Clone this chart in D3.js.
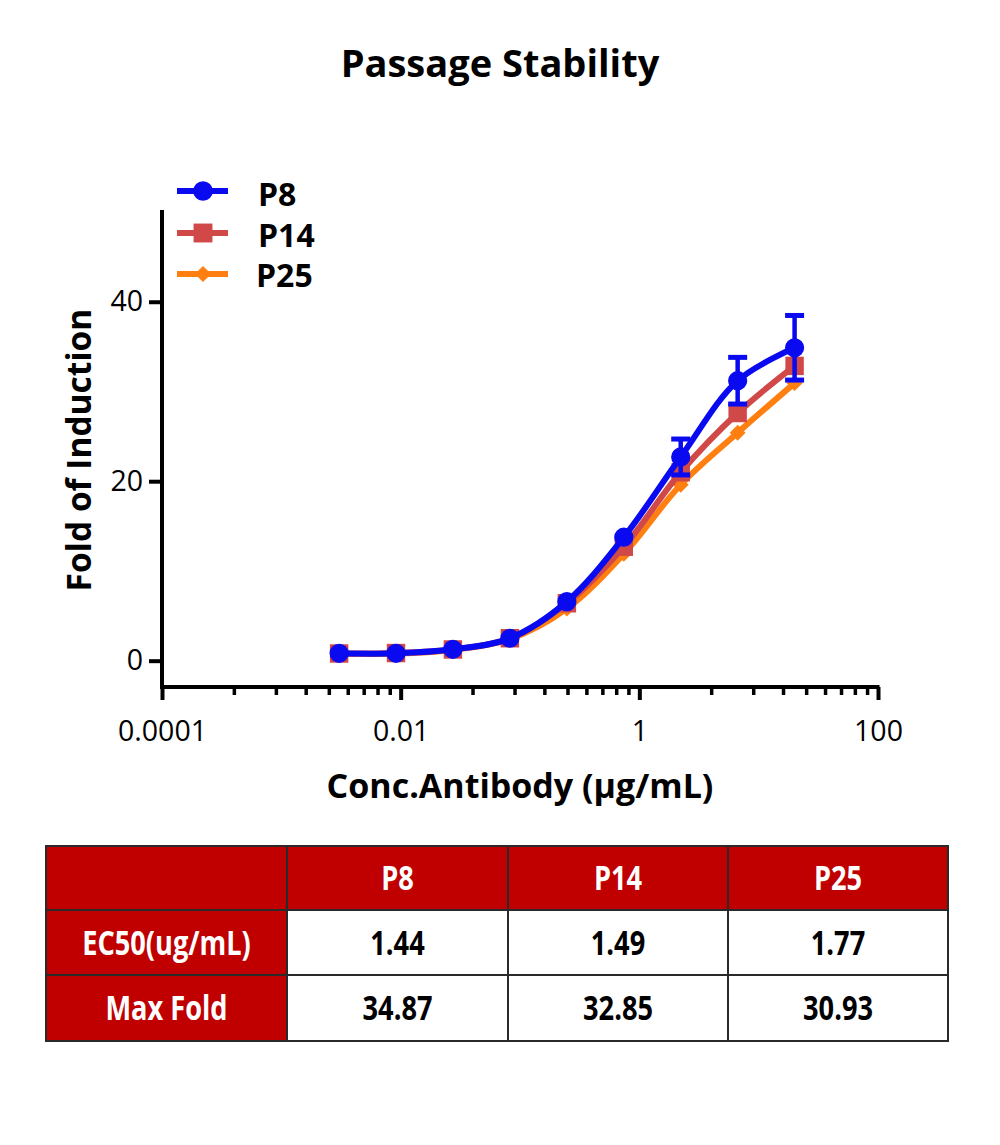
<!DOCTYPE html>
<html>
<head>
<meta charset="utf-8">
<script src="https://cdn.jsdelivr.net/npm/d3@7"></script>
<style>
  html, body { margin: 0; padding: 0; background: #fff; }
  svg { display: block; }
</style>
</head>
<body>
<script>
// ---------------- DATA ----------------
const title = "Passage Stability";
const xLabel = "Conc.Antibody (\u00b5g/mL)";
const yLabel = "Fold of Induction";
const concentrations = [0.00305, 0.00914, 0.0274, 0.0823, 0.247, 0.741, 2.222, 6.667, 20];
const seriesNames = ["P8", "P14", "P25"];
const seriesColors = ["#0A0AF0", "#D04848", "#FF8010"];
const seriesSymbols = ["circle", "square", "diamond"];
const p8Values  = [0.82, 0.82, 1.27, 2.5, 6.58, 13.76, 22.7, 31.2, 34.87];
const p8SD      = [0.1, 0.1, 0.15, 0.2, 0.3, 0.4, 2.0, 2.6, 3.6];
const p14Values = [0.80, 0.85, 1.25, 2.5, 6.4, 12.7, 21.0, 27.6, 32.85];
const p25Values = [0.75, 0.80, 1.20, 2.4, 5.8, 11.9, 19.6, 25.4, 30.93];
const xMajorTicks = [0.0001, 0.01, 1, 100];
const xTickLabels = ["0.0001", "0.01", "1", "100"];
const yTicks = [0, 20, 40];
const tableColumns = ["", "P8", "P14", "P25"];
const tableRowLabels = ["EC50(ug/mL)", "Max Fold"];
const ec50Values = [1.44, 1.49, 1.77];
const maxFoldValues = [34.87, 32.85, 30.93];

// ---------------- LAYOUT ----------------
const W = 1000, H = 1145;
const svg = d3.select("body").append("svg").attr("width", W).attr("height", H);
svg.append("rect").attr("width", W).attr("height", H).attr("fill", "#fff");

const x = d3.scaleLog().domain([0.0001, 100]).range([162, 878]);
const y = d3.scaleLinear().domain([-3, 50]).range([687.6, 212]);

const boldFont = "'Open Sans', 'Noto Sans', sans-serif";

// Title
svg.append("text").attr("x", 500).attr("y", 77).attr("text-anchor", "middle")
  .attr("font-family", boldFont).attr("font-weight", 700).attr("font-size", 38)
  .attr("fill", "#000").text(title);

// Minor x ticks (Prism-style: base * k^2 within each 2-decade interval)
const xMinor = [];
xMajorTicks.slice(0, -1).forEach(b => { for (let k = 2; k <= 9; k++) xMinor.push(b * k * k); });

const gxMinor = svg.append("g").attr("transform", "translate(0,687)")
  .call(d3.axisBottom(x).tickValues(xMinor).tickSize(8).tickSizeOuter(0).tickFormat(""));
gxMinor.select(".domain").remove();
gxMinor.selectAll(".tick line").attr("stroke", "#000").attr("stroke-width", 3.5);

const gx = svg.append("g").attr("transform", "translate(0,687)")
  .call(d3.axisBottom(x).tickValues(xMajorTicks).tickSize(13).tickSizeOuter(0).tickPadding(21)
    .tickFormat((d, i) => xTickLabels[i]));
gx.select(".domain").attr("stroke", "#000").attr("stroke-width", 4)
  .attr("d", `M${x.range()[0] - 2},0H${x.range()[1] + 1.5}`);
gx.selectAll(".tick line").attr("stroke", "#000").attr("stroke-width", 4);
gx.selectAll(".tick text").attr("font-family", boldFont).attr("font-size", 28.5).attr("fill", "#000");

const gy = svg.append("g").attr("transform", "translate(162,0)")
  .call(d3.axisLeft(y).tickValues(yTicks).tickSize(13).tickSizeOuter(0).tickPadding(6));
gy.select(".domain").attr("stroke", "#000").attr("stroke-width", 4)
  .attr("d", `M0,${y.range()[1] - 2}V${y.range()[0] + 1.5}`);
gy.selectAll(".tick line").attr("stroke", "#000").attr("stroke-width", 4);
gy.selectAll(".tick text").attr("font-family", boldFont).attr("font-size", 28.5).attr("fill", "#000");

// Axis labels
svg.append("text").attr("x", 520).attr("y", 798).attr("text-anchor", "middle")
  .attr("font-family", boldFont).attr("font-weight", 700).attr("font-size", 34)
  .attr("fill", "#000").text(xLabel);
svg.append("text").attr("transform", "translate(91,450) rotate(-90)").attr("text-anchor", "middle")
  .attr("font-family", boldFont).attr("font-weight", 700).attr("font-size", 33.5)
  .attr("fill", "#000").text(yLabel);

// Series
const allValues = [p8Values, p14Values, p25Values];
const symbolMap = { circle: d3.symbolCircle, square: d3.symbolSquare, diamond: d3.symbolDiamond2 };
const symbolSize = { circle: 290, square: 340, diamond: 160 };

const line = d3.line().x(d => x(d[0])).y(d => y(d[1])).curve(d3.curveCatmullRom.alpha(0.5));

const plot = svg.append("g");
// draw P25 first, P8 on top
[2, 1, 0].forEach(si => {
  const pts = concentrations.map((c, i) => [c, allValues[si][i]]);
  const g = plot.append("g");
  g.append("path").datum(pts).attr("d", line).attr("fill", "none")
    .attr("stroke", seriesColors[si]).attr("stroke-width", 6).attr("stroke-linejoin", "round");
  if (si === 0) {
    const eb = g.selectAll("g.eb").data(pts.map((p, i) => [p[0], p[1], p8SD[i]])).join("g");
    eb.append("line").attr("x1", d => x(d[0])).attr("x2", d => x(d[0]))
      .attr("y1", d => y(d[1] + d[2])).attr("y2", d => y(d[1] - d[2]))
      .attr("stroke", seriesColors[si]).attr("stroke-width", 4.5);
    ["+", "-"].forEach(sgn => {
      eb.append("line").attr("x1", d => x(d[0]) - 9.5).attr("x2", d => x(d[0]) + 9.5)
        .attr("y1", d => y(sgn === "+" ? d[1] + d[2] : d[1] - d[2]))
        .attr("y2", d => y(sgn === "+" ? d[1] + d[2] : d[1] - d[2]))
        .attr("stroke", seriesColors[si]).attr("stroke-width", 5)
        .attr("display", d => d[2] > 1 ? null : "none");
    });
  }
  const sym = d3.symbol().type(symbolMap[seriesSymbols[si]]).size(symbolSize[seriesSymbols[si]]);
  g.selectAll("path.m").data(pts).join("path").attr("class", "m")
    .attr("transform", d => `translate(${x(d[0])},${y(d[1])})`)
    .attr("d", sym).attr("fill", seriesColors[si]);
});

// Legend
const legendY = [191, 233, 274];
const legendTextY = [206, 247, 287];
seriesNames.forEach((name, si) => {
  const g = svg.append("g");
  g.append("line").attr("x1", 177).attr("x2", 228).attr("y1", legendY[si]).attr("y2", legendY[si])
    .attr("stroke", seriesColors[si]).attr("stroke-width", 6);
  g.append("path").attr("transform", `translate(203,${legendY[si]})`)
    .attr("d", d3.symbol().type(symbolMap[seriesSymbols[si]]).size(symbolSize[seriesSymbols[si]] * 1.05)())
    .attr("fill", seriesColors[si]);
  g.append("text").attr("x", si === 2 ? 256 : 258).attr("y", legendTextY[si])
    .attr("font-family", boldFont).attr("font-weight", 700).attr("font-size", 32)
    .attr("fill", "#000").text(name);
});

// Table
const colEdges = [46, 287, 508, 728, 948];
const rowEdges = [846, 910, 975, 1041];
const red = "#C00000";
const tbl = svg.append("g");
const rows = [tableColumns, [tableRowLabels[0], ...ec50Values.map(v => v.toFixed(2))],
              [tableRowLabels[1], ...maxFoldValues.map(v => v.toFixed(2))]];
rows.forEach((row, ri) => {
  row.forEach((cell, ci) => {
    const isRed = ri === 0 || ci === 0;
    tbl.append("rect").attr("x", colEdges[ci]).attr("y", rowEdges[ri])
      .attr("width", colEdges[ci + 1] - colEdges[ci]).attr("height", rowEdges[ri + 1] - rowEdges[ri])
      .attr("fill", isRed ? red : "#fff").attr("stroke", "#2a2a2a").attr("stroke-width", 2);
    if (cell !== "") {
      const cx = (colEdges[ci] + colEdges[ci + 1]) / 2;
      const cy = (rowEdges[ri] + rowEdges[ri + 1]) / 2 + 12;
      tbl.append("text").attr("transform", `translate(${cx},${cy}) scale(0.8,1)`)
        .attr("text-anchor", "middle").attr("font-family", boldFont).attr("font-weight", 700)
        .attr("font-size", 34).attr("fill", isRed ? "#fff" : "#000").text(cell);
    }
  });
});
</script>
</body>
</html>
